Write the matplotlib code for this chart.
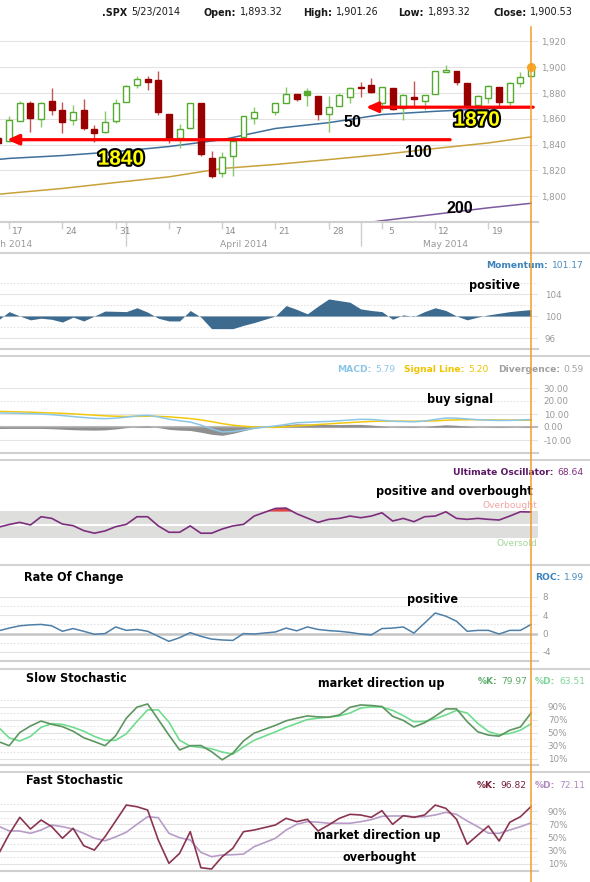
import numpy as np
import matplotlib
matplotlib.use("Agg")
import matplotlib.pyplot as plt
import matplotlib.patheffects as pe
from matplotlib import font_manager
from matplotlib.lines import Line2D
from matplotlib.patches import Rectangle

plt.rcParams["axes.unicode_minus"] = False

# ---- values (.SPX, 14 Mar - 23 May 2014) ----
dates = ["2014-03-14", "2014-03-17", "2014-03-18", "2014-03-19", "2014-03-20", "2014-03-21",
         "2014-03-24", "2014-03-25", "2014-03-26", "2014-03-27", "2014-03-28", "2014-03-31",
         "2014-04-01", "2014-04-02", "2014-04-03", "2014-04-04", "2014-04-07", "2014-04-08",
         "2014-04-09", "2014-04-10", "2014-04-11", "2014-04-14", "2014-04-15", "2014-04-16",
         "2014-04-17", "2014-04-21", "2014-04-22", "2014-04-23", "2014-04-24", "2014-04-25",
         "2014-04-28", "2014-04-29", "2014-04-30", "2014-05-01", "2014-05-02", "2014-05-05",
         "2014-05-06", "2014-05-07", "2014-05-08", "2014-05-09", "2014-05-12", "2014-05-13",
         "2014-05-14", "2014-05-15", "2014-05-16", "2014-05-19", "2014-05-20", "2014-05-21",
         "2014-05-22", "2014-05-23"]

opens = [1845.0, 1842.5, 1858.5, 1872.0, 1860.1, 1874.0, 1867.0, 1859.0, 1867.0, 1852.0,
         1849.5, 1858.0, 1873.0, 1886.0, 1891.0, 1890.0, 1863.9, 1845.5, 1852.5, 1872.3,
         1830.0, 1818.0, 1831.0, 1846.0, 1861.0, 1865.0, 1872.0, 1879.0, 1881.5, 1877.5,
         1864.0, 1870.0, 1877.0, 1884.5, 1886.0, 1872.0, 1883.7, 1868.5, 1877.0, 1874.0,
         1879.0, 1896.6, 1897.3, 1888.0, 1871.0, 1876.0, 1884.5, 1873.0, 1888.0, 1893.32]
highs = [1847.0, 1862.0, 1873.5, 1874.0, 1873.3, 1883.6, 1873.0, 1871.0, 1875.0, 1855.0,
         1866.0, 1875.0, 1886.0, 1893.5, 1893.0, 1897.3, 1864.0, 1856.0, 1872.5, 1872.6,
         1835.0, 1834.0, 1844.0, 1862.5, 1869.0, 1872.5, 1884.5, 1879.5, 1884.0, 1877.7,
         1877.6, 1880.0, 1885.0, 1888.5, 1891.5, 1885.0, 1884.0, 1879.0, 1889.0, 1878.6,
         1897.0, 1902.0, 1897.3, 1888.0, 1878.5, 1886.0, 1884.8, 1888.5, 1896.0, 1901.26]
lows = [1839.0, 1842.0, 1858.0, 1850.0, 1854.0, 1863.0, 1849.0, 1855.0, 1851.0, 1842.0,
        1849.0, 1857.0, 1873.0, 1884.0, 1882.0, 1863.0, 1841.0, 1837.0, 1852.0, 1831.0,
        1814.0, 1815.0, 1816.0, 1846.0, 1856.0, 1863.0, 1872.0, 1873.5, 1870.0, 1859.0,
        1850.0, 1870.0, 1872.0, 1877.0, 1880.0, 1867.0, 1867.0, 1859.0, 1870.0, 1867.0,
        1879.0, 1896.0, 1886.0, 1862.0, 1864.0, 1872.0, 1868.6, 1871.0, 1884.5, 1893.32]
closes = [1841.1, 1858.8, 1872.3, 1860.8, 1872.0, 1866.5, 1857.4, 1865.6, 1852.6, 1849.0,
          1857.6, 1872.3, 1885.5, 1890.9, 1888.8, 1865.1, 1845.0, 1852.0, 1872.2, 1833.1,
          1815.7, 1830.6, 1843.0, 1862.3, 1864.9, 1871.9, 1879.5, 1875.4, 1878.6, 1863.4,
          1869.4, 1878.3, 1884.0, 1883.7, 1881.1, 1884.7, 1867.7, 1878.2, 1875.6, 1878.5,
          1896.7, 1897.5, 1888.5, 1870.9, 1877.9, 1885.1, 1872.8, 1888.0, 1892.5, 1900.53]
close_before_first = 1846.3

ma_dates = ["2014-03-14", "2014-03-17", "2014-03-24", "2014-03-31", "2014-04-07", "2014-04-14",
            "2014-04-21", "2014-04-28", "2014-05-05", "2014-05-12", "2014-05-19", "2014-05-23"]
ma50 = [1828.5, 1829.3, 1831.5, 1834.5, 1838.5, 1843.8, 1852.5, 1857.0, 1863.3, 1865.8, 1867.8, 1869.2]
ma100 = [1801.5, 1802.3, 1806.0, 1810.6, 1815.0, 1821.5, 1824.6, 1828.4, 1832.3, 1837.0, 1841.3, 1846.0]
ma200_dates = ["2014-04-21", "2014-04-28", "2014-05-05", "2014-05-12", "2014-05-19", "2014-05-23"]
ma200 = [1770.5, 1775.5, 1781.0, 1786.0, 1791.0, 1794.5]

momentum = [99.3, 100.8, 100.0, 99.3, 99.6, 99.4, 98.9, 99.8, 99.1, 100.0,
            100.9, 100.85, 100.8, 101.5, 100.7, 99.6, 99.1, 99.1, 101.0, 99.8,
            97.7, 97.7, 97.7, 98.3, 98.8, 100.0, 101.9, 101.2, 100.4, 101.8,
            103.1, 102.8, 102.5, 101.3, 101.0, 100.8, 99.4, 100.2, 99.9, 100.8,
            101.5, 101.0, 100.0, 99.3, 99.8, 100.2, 100.5, 100.8, 101.0, 101.17]

macd = [10.8, 10.7, 10.5, 10.3, 10.0, 9.5, 8.8, 8.0, 7.3, 6.7,
        6.4, 6.8, 7.6, 8.5, 9.0, 7.8, 6.0, 4.8, 3.8, 1.5,
        -1.5, -3.8, -3.5, -2.3, -1.0, 0.8, 2.0, 3.3, 3.6, 4.0,
        4.3, 4.8, 5.4, 5.9, 5.8, 5.2, 4.4, 4.2, 4.0, 4.6,
        5.8, 6.9, 6.8, 6.2, 5.6, 5.3, 5.0, 5.1, 5.4, 5.79]
signal_line = [12.0, 11.8, 11.6, 11.4, 11.1, 10.8, 10.5, 10.1, 9.6, 9.1,
               8.6, 8.3, 8.1, 8.2, 8.3, 8.2, 7.8, 7.2, 6.5, 5.5,
               4.1, 2.6, 1.4, 0.6, 0.0, -0.3, 0.2, 0.8, 1.3, 1.9,
               2.4, 2.9, 3.4, 3.9, 4.3, 4.5, 4.5, 4.5, 4.4, 4.5,
               4.7, 5.2, 5.5, 5.6, 5.6, 5.5, 5.4, 5.3, 5.2, 5.20]
divergence = [-1.2, -1.1, -1.1, -1.1, -1.1, -1.3, -1.7, -2.1, -2.3, -2.4,
              -2.2, -1.5, -0.5, 0.3, 0.7, -0.4, -1.8, -2.4, -2.7, -4.0,
              -5.6, -6.4, -4.9, -2.9, -1.0, 1.1, 1.8, 2.5, 2.3, 2.1,
              1.9, 1.9, 2.0, 2.0, 1.5, 0.7, -0.1, -0.3, -0.4, 0.1,
              1.1, 1.7, 1.3, 0.6, 0.0, -0.2, -0.4, -0.2, 0.2, 0.59]

ult_osc = [46, 50, 53.2, 49.3, 61.6, 59.1, 50.7, 48.3, 40.9, 37,
           40.4, 46.7, 50.2, 61.6, 61.6, 47.9, 38.4, 38.4, 47.9, 37,
           37, 43.3, 47.9, 50.2, 62.6, 74, 74.5, 66, 59.5, 53.2,
           57.7, 59.1, 62.6, 60.1, 62.6, 67.5, 55.2, 59.1, 54.2, 61.6,
           62.6, 69, 59.1, 57.7, 59.1, 57.7, 56.7, 62.6, 69, 68.64]

roc = [0.6, 1.2, 1.7, 1.9, 2.0, 1.7, 0.5, 1.1, 0.5, -0.15,
       0.0, 1.45, 0.7, 0.9, 0.5, -0.6, -1.7, -0.9, 0.2, -0.6,
       -1.2, -1.4, -1.5, 0.0, -0.1, 0.35, 1.2, 0.6, 1.45, 0.9,
       0.65, 0.5, 0.25, -0.1, -0.3, 1.1, 1.2, 1.45, 0.1, 2.3,
       4.5, 3.8, 2.7, 0.5, 0.7, 0.7, -0.1, 0.7, 0.7, 1.99]

slow_k = [36, 29.7, 50, 60, 67.6, 62.6, 59, 52, 42, 36,
          29.7, 45, 72, 89, 93.9, 70, 46, 23.2, 29.7, 30,
          20.5, 8, 18.2, 37, 49, 61, 68, 72, 75.5, 74,
          73.6, 77, 88.8, 92.4, 91.5, 90, 75, 68.6, 58.5, 65,
          75, 86.3, 86.3, 66.7, 51, 46, 44.4, 53.5, 58.5, 79.97]
slow_d = [58, 41.8, 37, 44, 58, 63.6, 62.5, 58, 52, 44,
          38, 38, 48, 67, 84.8, 84.8, 66, 38, 29, 27,
          25, 20, 16.7, 28, 38, 51, 58, 64, 70, 72,
          73.6, 75.5, 80, 87.6, 89.5, 89, 84, 76, 66.6, 67,
          71, 77, 84, 80, 64, 51.5, 46.5, 48.5, 53.5, 63.51]

fast_k = [25, 55, 80.5, 62.8, 76.4, 66.3, 48.8, 63.9, 37.6, 31,
          51.2, 75, 99, 96.5, 91.5, 46.2, 11, 26, 58.8, 4.4,
          2.4, 21, 33.7, 58.8, 61.3, 68.9, 79, 73.9, 77.5, 59.8,
          68.9, 79, 85, 84, 80.5, 90.5, 69.9, 83, 80.5, 84,
          99, 94, 77.5, 39.7, 53.8, 67.4, 44.7, 73, 81.4, 96.82]
fast_d = [67, 60, 59.8, 56.3, 61.3, 68.9, 66.3, 62.8, 56.3, 49,
          45, 51, 58, 69.9, 81.4, 79.9, 56.3, 49.7, 46.2, 27.6,
          21, 23.6, 24, 25, 36.1, 48.8, 61.3, 69.9, 73.9, 73.2,
          71.5, 71.5, 71.5, 73.9, 77, 82, 82.5, 82.5, 81.4, 81.4,
          84, 88, 85, 75, 66.3, 56.5, 56.3, 61.3, 66.3, 72.11]

week_starts = ["2014-03-17", "2014-03-24", "2014-03-31", "2014-04-07", "2014-04-14",
               "2014-04-21", "2014-04-28", "2014-05-05", "2014-05-12", "2014-05-19"]
week_labels = ["17", "24", "31", "7", "14", "21", "28", "5", "12", "19"]
month_labels = ["March 2014", "April 2014", "May 2014"]

# ---- setup ----
W, H = 590, 882
fig = plt.figure(figsize=(W / 100, H / 100), dpi=100)
fig.patch.set_facecolor("white")
renderer = fig.canvas.get_renderer()

installed = {f.name for f in font_manager.fontManager.ttflist}
COND = "Liberation Sans Narrow" if "Liberation Sans Narrow" in installed else "DejaVu Sans"
COND_SIZE = 12.6 if COND != "DejaVu Sans" else 9
BOLD = "Liberation Sans" if "Liberation Sans" in installed else "DejaVu Sans"
SMALL = "DejaVu Sans"


def slots(ds):
    # one slot per weekday, counted from Monday 17 March
    return np.busday_count("2014-03-17", np.array(ds, dtype="datetime64[D]")).astype(float)


x = slots(dates)
XL = (-0.86, 49.65)


def ftext(px, py, s, **kw):
    kw.setdefault("va", "center")
    return fig.text(px / W, 1 - py / H, s, **kw)


def chain(py, parts, left=None, right=None, size=6.6):
    # parts: (text, colour, bold, gap before in px) laid out one after another
    texts = [ftext(0, py, s, color=c, fontfamily=SMALL, fontsize=size,
                   fontweight="bold" if b else "normal", ha="left") for s, c, b, g in parts]
    widths = [t.get_window_extent(renderer).width for t in texts]
    gaps = [g for _, _, _, g in parts]
    total = sum(widths) + sum(gaps[1:])
    px = left if left is not None else right - total
    for i, (t, w) in enumerate(zip(texts, widths)):
        if i:
            px += gaps[i]
        t.set_x(px / W)
        px += w


def note(px, py, s, ha="center"):
    ftext(px, py, s, fontfamily=COND, fontweight="bold", fontsize=COND_SIZE,
          fontstretch="condensed", color="black", ha=ha)


def panel(top, bottom, ylim):
    ax = fig.add_axes([0, 1 - bottom / H, 538 / W, (bottom - top) / H])
    ax.set_xlim(*XL)
    ax.set_ylim(*ylim)
    ax.set_facecolor("none")
    for sp in ax.spines.values():
        sp.set_visible(False)
    ax.set_xticks([])
    ax.yaxis.tick_right()
    ax.tick_params(axis="y", length=0, labelsize=6.3, labelcolor="#999999")
    return ax


def hgrid(ax, solid, dotted=()):
    for v in solid:
        ax.axhline(v, color="#e3e3e3", lw=0.8, zorder=0)
    for v in dotted:
        ax.axhline(v, color="#e3e3e3", lw=0.8, ls=(0, (1.5, 1.5)), zorder=0)


def base_line(ax):
    ax.spines["bottom"].set_visible(True)
    ax.spines["bottom"].set_color("#cfcfcf")
    ax.spines["bottom"].set_linewidth(1.5)


# ---- header ----
for px, a, b in [(102, ".SPX", "5/23/2014"), (203, "Open:", "1,893.32"),
                 (303, "High:", "1,901.26"), (398, "Low:", "1,893.32"),
                 (493, "Close:", "1,900.53")]:
    chain(12.5, [(a, "#1a1a1a", True, 0), (b, "#1a1a1a", False, 4)], left=px, size=6.9)

# ---- price panel ----
ax = panel(28.5, 222, (1780, 1930))
pticks = list(range(1800, 1940, 20))
hgrid(ax, pticks)
ax.set_yticks(pticks)
ax.set_yticklabels([f"{v:,}" for v in pticks])
ax.tick_params(axis="y", pad=2)
base_line(ax)

ax.plot(slots(ma_dates), ma100, color="#c9a13b", lw=1.1, zorder=1)
ax.plot(slots(ma200_dates), ma200, color="#7b5aa0", lw=1.1, zorder=1)
ax.plot(slots(ma_dates), ma50, color="#3f6f9b", lw=1.1, zorder=1)

prev = [close_before_first] + closes[:-1]
for xi, o, h, l, c, p in zip(x, opens, highs, lows, closes, prev):
    up = c >= p
    col = "#56aa30" if up else "#990000"
    wick = "#86c866" if up else "#c65454"
    ax.plot([xi, xi], [l, h], color=wick, lw=1.0, zorder=2, solid_capstyle="butt")
    lo, hi = min(o, c), max(o, c)
    hi = max(hi, lo + 0.6)
    face = col if c < o else "white"
    ax.add_patch(Rectangle((xi - 0.28, lo), 0.56, hi - lo, facecolor=face,
                           edgecolor=col, lw=1.0, zorder=3))

ax.plot(x[-1], closes[-1], "o", color="#f5a623", ms=5.5, zorder=8, clip_on=False)

arrow = dict(arrowstyle="-|>,head_length=0.5,head_width=0.22", color="#ff0000",
             lw=2.3, shrinkA=0, shrinkB=0, mutation_scale=14)
ax.annotate("", xy=(-0.2, 1843.8), xytext=(41.4, 1843.8), arrowprops=arrow, zorder=5)
ax.annotate("", xy=(33.5, 1869.0), xytext=(49.2, 1869.0), arrowprops=arrow, zorder=5)

outline = [pe.withStroke(linewidth=3, foreground="black")]
for s, xs, ys in [("1840", 10.5, 1828.7), ("1870", 43.9, 1858.9)]:
    ax.text(xs, ys, s, ha="center", va="center", fontsize=15, fontweight="bold",
            fontfamily=BOLD, color="#ffff00", path_effects=outline, zorder=7)
for s, xs, ys in [("50", 32.2, 1857.4), ("100", 38.4, 1834.1), ("200", 42.3, 1790.7)]:
    ax.text(xs, ys, s, ha="center", va="center", fontsize=11.5, fontweight="bold",
            fontfamily=BOLD, color="black", zorder=7)

trans = ax.get_xaxis_transform()
ws = slots(week_starts)
ax.vlines(ws, -0.035, 0, transform=trans, color="#cfcfcf", lw=1, clip_on=False)
for xs, lab in zip(ws, week_labels):
    ax.text(xs + 0.85, -0.05, lab, transform=trans, ha="center", va="center",
            fontsize=6.6, color="#8c8c8c", fontfamily=SMALL)
month_firsts = [x[dates.index("2014-04-01")], x[dates.index("2014-05-01")]]
ax.vlines(month_firsts, -0.125, 0, transform=trans, color="#cfcfcf", lw=1, clip_on=False)
# the March label runs off the left edge, as in the original
for xs, lab in zip([-0.36, 22.0, 41.0], month_labels):
    ax.text(xs, -0.114, lab, transform=trans, ha="center", va="center",
            fontsize=6.6, color="#999999", fontfamily=SMALL, clip_on=False)

# ---- momentum ----
ax = panel(283, 349, (94, 106))
hgrid(ax, [96, 100, 104], [98, 102, 106])
base_line(ax)
ax.set_yticks([96, 100, 104])
ax.tick_params(axis="y", pad=5)
ax.fill_between(x, 100, momentum, color="#3d6b8f", lw=0, zorder=2)
chain(265, [("Momentum:", "#3b82bd", True, 0), ("101.17", "#4a8cc2", False, 4)], right=584)
note(494, 286, "positive")

# ---- MACD ----
ax = panel(388, 453, (-20, 30))
hgrid(ax, [30, 10, -10], [20])
ax.axhline(0, color="#b9b9b9", lw=1.5, zorder=1)
base_line(ax)
ax.set_yticks([30, 20, 10, 0, -10])
ax.set_yticklabels(["30.00", "20.00", "10.00", "0.00", "-10.00"])
ax.tick_params(axis="y", pad=4)
ax.fill_between(x, 0, divergence, color="#8f8f8f", lw=0, zorder=2)
ax.plot(x, signal_line, color="#f2c80f", lw=1.1, zorder=3)
ax.plot(x, macd, color="#8cc6e6", lw=1.1, zorder=4)
chain(369, [("MACD:", "#8cc6e6", True, 0), ("5.79", "#8cc6e6", False, 4),
            ("Signal Line:", "#f0c400", True, 9), ("5.20", "#f0c400", False, 4),
            ("Divergence:", "#a0a0a0", True, 9), ("0.59", "#a0a0a0", False, 4)], right=584)
note(460, 400, "buy signal")

# ---- Ultimate Oscillator ----
ax = panel(491, 558, (0, 100))
ax.set_yticks([])
ax.axhspan(30, 70, color="#dededc", lw=0, zorder=0)
ax.axhline(50, color="white", lw=1.5, zorder=1)
uo = np.array(ult_osc)
ax.fill_between(x, 70, uo, where=uo > 70, interpolate=True, color="#e04545", lw=0, zorder=2)
ax.plot(x, uo, color="#7d2d7d", lw=1.2, zorder=3)
chain(473, [("Ultimate Oscillator:", "#5c1a66", True, 0), ("68.64", "#7d2d7d", False, 4)],
      right=584)
note(454, 491, "positive and overbought")
ftext(537, 506, "Overbought", color="#f2a3a3", fontfamily=SMALL, fontsize=6.6, ha="right")
ftext(537, 543, "Oversold", color="#a6d69a", fontfamily=SMALL, fontsize=6.6, ha="right")

# ---- Rate of change ----
ax = panel(597, 661, (-6, 8))
hgrid(ax, [8, 4, -4], [6, 2, -2])
ax.axhline(0, color="#c4c4c4", lw=1.8, zorder=1)
base_line(ax)
ax.set_yticks([8, 4, 0, -4])
ax.tick_params(axis="y", pad=3)
ax.plot(x, roc, color="#4d7fa8", lw=1.1, zorder=3)
note(24.5, 577, "Rate Of Change", ha="left")
chain(577, [("ROC:", "#3b82bd", True, 0), ("1.99", "#4a8cc2", False, 4)], right=584)
note(433, 599, "positive")

# ---- Stochastics ----
for top, bottom, k, d, kc, dc, title, vals, kcol, dcol, ty, hy in [
        (700, 765, slow_k, slow_d, "#5d9660", "#6fdc8f", "Slow Stochastic",
         ("79.97", "63.51"), "#5aaa6a", "#7fd49a", 679, 681),
        (804.4, 870.6, fast_k, fast_d, "#8a3550", "#b89cc8", "Fast Stochastic",
         ("96.82", "72.11"), "#7a2038", "#b08ac0", 781, 786)]:
    ax = panel(top, bottom, (0, 100))
    hgrid(ax, [90, 70, 50, 30, 10], [100, 80, 60, 40, 20])
    base_line(ax)
    ax.set_yticks([90, 70, 50, 30, 10])
    ax.set_yticklabels(["90%", "70%", "50%", "30%", "10%"])
    ax.tick_params(axis="y", pad=7)
    ax.plot(x, d, color=dc, lw=1.2, zorder=3)
    ax.plot(x, k, color=kc, lw=1.2, zorder=4)
    note(26, ty, title, ha="left")
    chain(hy, [("%K:", kcol, True, 0), (vals[0], kcol, False, 4),
               ("%D:", dcol, True, 8), (vals[1], dcol, False, 4)], right=585)

note(381, 683, "market direction up")
note(377, 836, "market direction up")
note(379.5, 858, "overbought")

# ---- separators and the current-day marker ----
for yy in [253, 356, 460, 565, 669, 772]:
    fig.add_artist(Line2D([0, 1], [1 - yy / H] * 2, color="#d2d2d2", lw=1.5))
fig.add_artist(Line2D([531 / W] * 2, [1 - 27 / H, 0], color="#f39c2b", lw=1.1, zorder=10))

fig.savefig("out.png", dpi=100, facecolor="white")
